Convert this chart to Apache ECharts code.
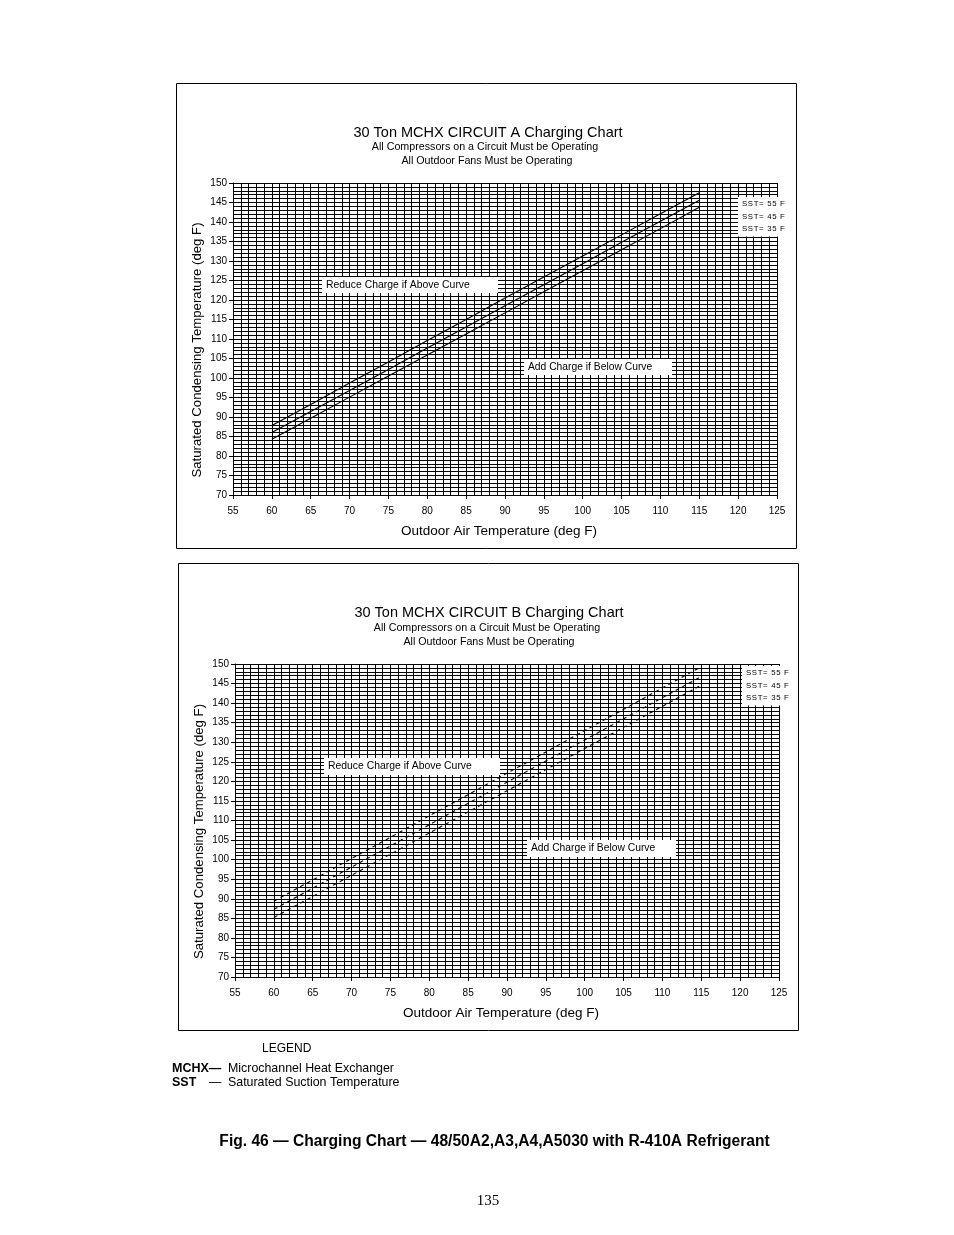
<!DOCTYPE html>
<html>
<head>
<meta charset="utf-8">
<script src="https://cdn.jsdelivr.net/npm/echarts@6/dist/echarts.min.js"></script>
<style>
html,body{margin:0;padding:0;background:#fff;}
#c{width:954px;height:1235px;}
</style>
</head>
<body>
<div id="c"></div>
<script>
// ---- data ----
var outdoorTemps = [60, 65, 70, 75, 80, 85, 90, 95, 100, 105, 110, 115];
var circuitA_sst55 = [87.8, 93.2, 98.7, 104.1, 109.6, 115.0, 120.5, 125.9, 131.3, 136.7, 142.1, 147.5];
var circuitA_sst45 = [86.0, 91.4, 96.8, 102.2, 107.7, 113.1, 118.5, 123.9, 129.3, 134.8, 140.2, 145.6];
var circuitA_sst35 = [84.3, 89.7, 95.1, 100.5, 105.9, 111.3, 116.7, 122.1, 127.5, 132.9, 138.3, 143.8];
var circuitB_sst55 = [89.4, 94.8, 100.3, 105.7, 111.2, 116.6, 122.1, 127.5, 133.0, 138.4, 143.9, 149.3];
var circuitB_sst45 = [87.3, 92.7, 98.1, 103.5, 108.9, 114.4, 119.8, 125.2, 130.6, 136.0, 141.4, 146.8];
var circuitB_sst35 = [85.2, 90.6, 96.0, 101.4, 106.8, 112.2, 117.6, 123.0, 128.4, 133.8, 139.2, 144.6];
var sstLabels = ['SST= 55 F', 'SST= 45 F', 'SST= 35 F'];
var xTicks = {min: 55, max: 125, interval: 5};
var yTicks = {min: 70, max: 150, interval: 5};

function pairs(xs, ys){ return xs.map(function(x,i){ return [x, ys[i]]; }); }

var FONT = 'Liberation Sans, Arial, sans-serif';

function xAxisDef(gi){
  return {
    type:'value', gridIndex:gi, min:xTicks.min, max:xTicks.max, interval:xTicks.interval,
    name:'Outdoor Air Temperature (deg F)', nameLocation:'middle', nameGap:29, nameMoveOverlap:false,
    nameTextStyle:{fontFamily:FONT, fontSize:13.5, color:'#000', padding:[0,12,0,0]},
    axisLine:{show:true, onZero:false, lineStyle:{color:'#000', width:1}},
    axisTick:{show:true, length:4, lineStyle:{color:'#000'}},
    axisLabel:{fontFamily:FONT, fontSize:10, color:'#000', margin:11},
    splitLine:{show:true, lineStyle:{color:'#000', width:1}},
    minorTick:{show:false, splitNumber:5},
    minorSplitLine:{show:true, lineStyle:{color:'#000', width:1}}
  };
}
function yAxisDef(gi){
  return {
    type:'value', gridIndex:gi, min:yTicks.min, max:yTicks.max, interval:yTicks.interval,
    name:'Saturated Condensing Temperature (deg F)', nameLocation:'middle', nameGap:29, nameMoveOverlap:false,
    nameTextStyle:{fontFamily:FONT, fontSize:13.2, color:'#000', padding:[0,22,0,0]},
    axisLine:{show:true, onZero:false, lineStyle:{color:'#000', width:1}},
    axisTick:{show:true, length:4, lineStyle:{color:'#000'}},
    axisLabel:{fontFamily:FONT, fontSize:10, color:'#000', margin:6},
    splitLine:{show:true, lineStyle:{color:'#000', width:1}},
    minorTick:{show:false, splitNumber:5},
    minorSplitLine:{show:true, lineStyle:{color:'#000', width:1}}
  };
}
function lineSeries(name, gi, ys, dashed){
  return {
    name:name, type:'line', xAxisIndex:gi, yAxisIndex:gi,
    data:pairs(outdoorTemps, ys), showSymbol:false, symbol:'none', smooth:false,
    lineStyle:{color:'#000', width:1.1, type: dashed ? [4,3.5] : 'solid'},
    z:5, silent:true, animation:false
  };
}

function boxText(x, y, w, h, txt, size){
  return [
    {type:'rect', shape:{x:x, y:y, width:w, height:h}, style:{fill:'#fff'}, z:10},
    {type:'text', x:x+4, y:y+h/2, style:{text:txt, font:size+'px '+FONT, fill:'#000', textVerticalAlign:'middle', verticalAlign:'middle'}, z:11}
  ];
}
function sstBox(x, y, gap){
  var els = [{type:'rect', shape:{x:x, y:y, width:52, height:gap*3+2}, style:{fill:'#fff'}, z:10}];
  sstLabels.forEach(function(t,i){
    els.push({type:'text', x:x+4, y:y+gap/2+1+i*gap, style:{text:t.split('').join('\u200A'), font:'7.8px '+FONT, fill:'#000', textVerticalAlign:'middle', verticalAlign:'middle'}, z:11});
  });
  return els;
}

var graphics = [
  {type:'rect', shape:{x:176.5, y:83.5, width:620, height:465}, style:{fill:'none', stroke:'#000', lineWidth:1}, z:1},
  {type:'rect', shape:{x:178.5, y:563.5, width:620, height:467}, style:{fill:'none', stroke:'#000', lineWidth:1}, z:1},
  {type:'text', x:262, y:1049, style:{text:'LEGEND', font:'12px '+FONT, fill:'#000', textVerticalAlign:'middle', verticalAlign:'middle'}},
  {type:'text', x:172, y:1069, style:{text:'MCHX\u2014', font:'bold 12.5px '+FONT, fill:'#000', textVerticalAlign:'middle', verticalAlign:'middle'}},
  {type:'text', x:228, y:1069, style:{text:'Microchannel Heat Exchanger', font:'12.4px '+FONT, fill:'#000', textVerticalAlign:'middle', verticalAlign:'middle'}},
  {type:'text', x:172, y:1083, style:{text:'SST', font:'bold 12.5px '+FONT, fill:'#000', textVerticalAlign:'middle', verticalAlign:'middle'}},
  {type:'text', x:209, y:1083, style:{text:'\u2014', font:'12.4px '+FONT, fill:'#000', textVerticalAlign:'middle', verticalAlign:'middle'}},
  {type:'text', x:228, y:1083, style:{text:'Saturated Suction Temperature', font:'12.4px '+FONT, fill:'#000', textVerticalAlign:'middle', verticalAlign:'middle'}},
  {type:'text', x:494.5, y:1142, style:{text:'Fig. 46 \u2014 Charging Chart \u2014 48/50A2,A3,A4,A5030 with R-410A Refrigerant', font:'bold 15.6px '+FONT, fill:'#000', textAlign:'center', align:'center', textVerticalAlign:'middle', verticalAlign:'middle'}},
  {type:'text', x:488, y:1201, style:{text:'135', font:'15px Liberation Serif, Times New Roman, serif', fill:'#000', textAlign:'center', align:'center', textVerticalAlign:'middle', verticalAlign:'middle'}}
];
graphics = graphics
  .concat(boxText(322, 277, 176, 16, 'Reduce Charge if Above Curve', 10.4))
  .concat(boxText(524, 359, 148, 16, 'Add Charge if Below Curve', 10.3))
  .concat(sstBox(738, 197, 12.5))
  .concat(boxText(324, 758, 176, 17, 'Reduce Charge if Above Curve', 10.4))
  .concat(boxText(527, 840, 149, 17, 'Add Charge if Below Curve', 10.3))
  .concat(sstBox(742, 666, 12.5));

function titleDef(txt, y, size, x){
  return {text:txt, left:x, top:y, textAlign:'center', textStyle:{fontFamily:FONT, fontSize:size, fontWeight:'normal', color:'#000'}};
}

var option = {
  animation:false,
  backgroundColor:'#fff',
  title:[
    titleDef('30 Ton MCHX CIRCUIT A Charging Chart', 120, 14.5, 483),
    titleDef('All Compressors on a Circuit Must be Operating', 137, 10.7, 480),
    titleDef('All Outdoor Fans Must be Operating', 151, 10.7, 482),
    titleDef('30 Ton MCHX CIRCUIT B Charging Chart', 600, 14.5, 484),
    titleDef('All Compressors on a Circuit Must be Operating', 618, 10.7, 482),
    titleDef('All Outdoor Fans Must be Operating', 632, 10.7, 484)
  ],
  grid:[
    {left:233, top:183, width:544, height:312, containLabel:false},
    {left:235, top:664, width:544, height:313, containLabel:false}
  ],
  xAxis:[xAxisDef(0), xAxisDef(1)],
  yAxis:[yAxisDef(0), yAxisDef(1)],
  series:[
    lineSeries(sstLabels[0]+' A', 0, circuitA_sst55, false),
    lineSeries(sstLabels[1]+' A', 0, circuitA_sst45, false),
    lineSeries(sstLabels[2]+' A', 0, circuitA_sst35, false),
    lineSeries(sstLabels[0]+' B', 1, circuitB_sst55, true),
    lineSeries(sstLabels[1]+' B', 1, circuitB_sst45, true),
    lineSeries(sstLabels[2]+' B', 1, circuitB_sst35, true)
  ],
  graphic:graphics
};
var chart = echarts.init(document.getElementById('c'), null, {renderer:'canvas'});
chart.setOption(option);
</script>
</body>
</html>
